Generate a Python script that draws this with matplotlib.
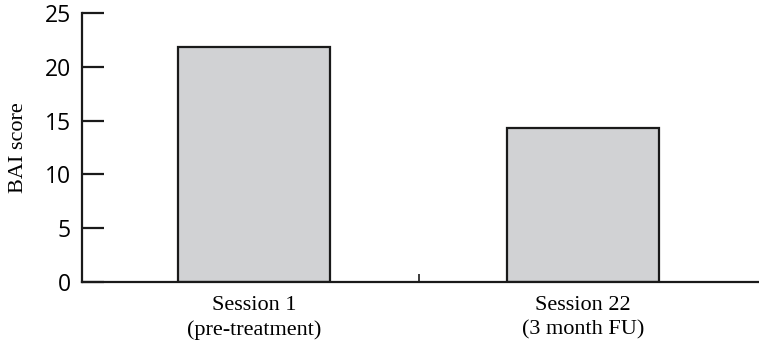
import matplotlib.pyplot as plt
from matplotlib.ticker import FixedLocator

sessions = ['Session 1\n(pre-treatment)', 'Session 22\n(3 month FU)']
bai_scores = [21.8, 14.3]
y_ticks = [0, 5, 10, 15, 20, 25]

fig = plt.figure(figsize=(7.59, 3.47), dpi=100)
ax = fig.add_axes([0.108, 0.1873, 0.8907, 0.7752])

x = range(len(sessions))
ax.bar(x, bai_scores, width=0.462, color='#d1d2d4', edgecolor='#1a1a1a', linewidth=1.6)

ax.set_xlim(-0.523, 1.532)
ax.set_ylim(0, 25)

for s in ['top', 'right']:
    ax.spines[s].set_visible(False)
for s in ['left', 'bottom']:
    ax.spines[s].set_linewidth(1.6)
    ax.spines[s].set_color('#1a1a1a')

ax.set_yticks(y_ticks)
ax.set_yticklabels([str(t) for t in y_ticks], family='Open Sans', fontsize=16.5)
ax.tick_params(axis='y', direction='in', length=16, width=1.6, pad=8, color='#1a1a1a')

ax.set_xticks(list(x))
ax.set_xticklabels(sessions, family='Liberation Serif', fontsize=16, linespacing=1.35)
ax.tick_params(axis='x', which='major', length=0, pad=10)
ax.xaxis.set_minor_locator(FixedLocator([0.5]))
ax.tick_params(axis='x', which='minor', direction='in', length=6, width=1.2, color='#1a1a1a')

ax.set_ylabel('BAI score', family='Liberation Serif', fontsize=16, labelpad=12)

fig.savefig('out.png', dpi=100)
